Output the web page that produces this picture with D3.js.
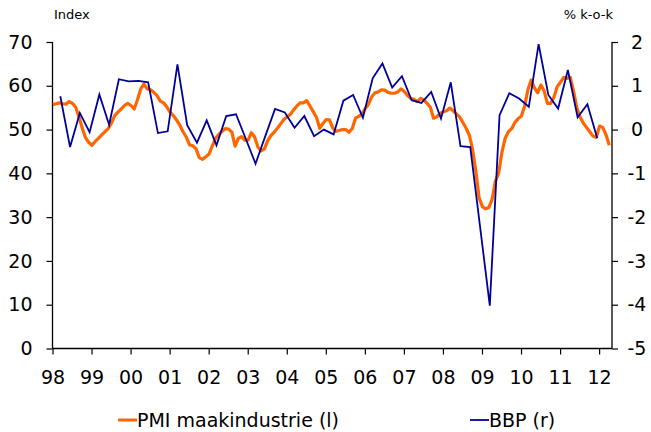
<!DOCTYPE html>
<html><head><meta charset="utf-8">
<script src="https://cdn.jsdelivr.net/npm/d3@7"></script>
<style>body{margin:0;background:#fff}svg{display:block}text{font-family:"DejaVu Sans",Verdana,sans-serif;fill:#000}</style>
</head><body><svg id="c" width="651" height="432"></svg>
<script>
const years = ["98","99","00","01","02","03","04","05","06","07","08","09","10","11","12"];
const leftTicks = [0,10,20,30,40,50,60,70];
const rightTicks = [-5,-4,-3,-2,-1,0,1,2];
// PMI manufacturing, monthly from Jan 1998
const pmi = [
55.7,55.9,56.1,55.9,55.8,56.4,56.0,55.1,53.0,50.4,48.2,47.1,
46.4,47.3,48.0,48.8,49.5,50.2,51.5,53.2,54.0,54.7,55.5,56.0,
55.5,54.7,56.8,59.3,60.4,59.3,59.1,58.5,57.8,56.5,56.1,55.2,
54.0,53.2,52.2,51.0,49.5,48.3,46.5,46.3,45.6,43.6,43.2,43.8,
44.4,46.3,48.0,48.9,49.6,50.2,50.1,49.4,46.2,48.0,48.4,47.6,
47.6,49.3,48.3,46.0,45.1,45.6,47.4,48.6,49.4,50.3,51.3,52.3,
52.9,53.5,54.5,55.4,56.1,56.1,56.6,55.4,54.1,52.8,50.3,51.4,
52.3,52.2,50.4,49.6,49.8,50.0,50.0,49.4,50.2,52.6,53.0,53.6,
54.8,55.8,57.5,58.4,58.6,59.1,59.0,58.5,58.3,58.3,58.6,59.3,
58.7,57.8,57.1,56.9,56.4,57.1,56.8,56.0,55.1,52.6,52.9,53.7,
54.1,54.3,54.9,54.3,53.6,52.9,51.6,50.3,48.7,45.4,40.5,34.4,
32.4,31.9,32.2,34.1,38.2,40.0,44.8,48.0,49.5,50.2,51.6,52.5,
53.1,55.4,59.1,61.3,59.5,58.4,60.2,58.8,56.0,56.0,57.4,59.8,
60.8,61.9,61.7,61.9,58.9,55.1,52.9,51.5,50.5,49.5,48.5,48.2,
50.8,50.5,48.8,46.4
];
// GDP growth q-o-q, quarterly from Q1 1998
const bbp = [
0.76,-0.40,0.38,-0.06,
0.80,0.11,1.15,1.10,
1.11,1.08,-0.08,-0.04,
1.49,0.10,-0.30,0.21,
-0.36,0.31,0.35,-0.21,
-0.78,-0.15,0.47,0.39,
0.04,0.31,-0.15,0.00,
-0.11,0.66,0.79,0.27,
1.17,1.51,0.96,1.22,
0.67,0.61,0.86,0.25,
1.08,-0.38,-0.40,-2.21,
-4.02,0.33,0.83,0.71,
0.52,1.95,0.79,0.48,
1.36,0.28,0.58,-0.19
];

const svg = d3.select("#c");
const L = 52.5, R = 612, T = 42, B = 348.5;
const x = d3.scaleLinear().domain([1998, 2012.33]).range([L, R]);
const yL = d3.scaleLinear().domain([0, 70]).range([B, T]);
const yR = d3.scaleLinear().domain([-5, 2]).range([B, T]);

// axes
const axL = svg.append("g").attr("transform", `translate(${L},0)`)
  .call(d3.axisLeft(yL).tickValues(leftTicks).tickSize(6).tickPadding(14).tickFormat(d3.format("d")));
const axR = svg.append("g").attr("transform", `translate(${R},0)`)
  .call(d3.axisRight(yR).tickValues(rightTicks).tickSize(6).tickPadding(8).tickFormat(d => d < 0 ? "-" + Math.abs(d) : d));
const axB = svg.append("g").attr("transform", `translate(0,${B})`)
  .call(d3.axisBottom(x).tickValues(d3.range(1998, 2013)).tickSize(6).tickPadding(16)
    .tickFormat((d, i) => years[i]));
[axL, axR, axB].forEach(a => {
  a.select(".domain").attr("stroke", "#000").attr("stroke-width", 1.3);
  a.selectAll(".tick line").attr("stroke", "#000").attr("stroke-width", 1.2);
  a.selectAll("text").style("font-size", "19px").attr("fill", "#000");
});
axB.select(".domain").attr("d", `M${L},0H${R}`);
axL.select(".domain").attr("d", `M0,${T}V${B}`);
axR.select(".domain").attr("d", `M0,${T}V${B}`);
axR.selectAll("text").attr("text-anchor", "middle").attr("x", 25);

// lines
const pmiLine = d3.line().x((d, i) => x(1998 + i / 12 + 0.01)).y(d => yL(d));
const bbpLine = d3.line().x((d, i) => x(1998 + Math.floor(i / 4) + (i % 4) * 0.25 + 0.2)).y(d => yR(d));
svg.append("path").datum(pmi).attr("d", pmiLine).attr("fill", "none")
  .attr("stroke", "#FF6600").attr("stroke-width", 3.2).attr("stroke-linejoin", "round");
svg.append("path").datum(bbp).attr("d", bbpLine).attr("fill", "none")
  .attr("stroke", "#000099").attr("stroke-width", 1.8).attr("stroke-linejoin", "miter");

// axis titles
svg.append("text").attr("x", 54).attr("y", 19).style("font-size", "13px").text("Index");
svg.append("text").attr("x", 613).attr("y", 19).attr("text-anchor", "end").style("font-size", "13px").text("% k-o-k");

// legend
const leg = [{name: "PMI maakindustrie (l)", c: "#FF6600", x: 118, w: 3}, {name: "BBP (r)", c: "#000099", x: 470, w: 1.8}];
leg.forEach(d => {
  svg.append("line").attr("x1", d.x).attr("x2", d.x + 19).attr("y1", 420).attr("y2", 420)
    .attr("stroke", d.c).attr("stroke-width", d.w);
  svg.append("text").attr("x", d.x + 19).attr("y", 427).style("font-size", "19px").text(d.name);
});
</script></body></html>
